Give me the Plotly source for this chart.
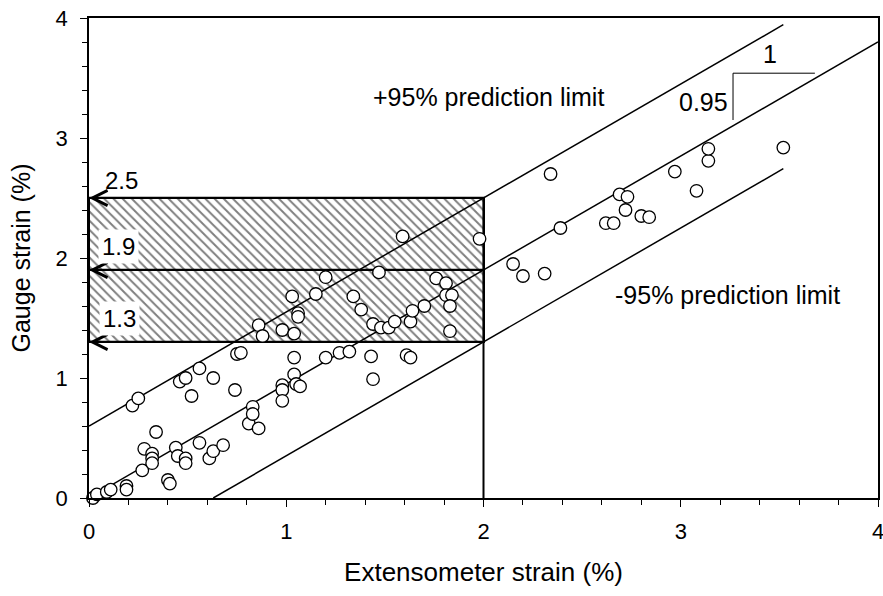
import plotly.graph_objects as go

# ---- data ----
ext_strain = [0.02, 0.04, 0.09, 0.11, 0.19, 0.19, 0.27, 0.28, 0.32, 0.32, 0.32, 0.34, 0.22, 0.25,
              0.40, 0.41, 0.44, 0.45, 0.49, 0.49, 0.46, 0.49, 0.52, 0.56, 0.56, 0.61, 0.63, 0.68,
              0.63, 0.74, 0.75, 0.77, 0.81, 0.83, 0.83, 0.86, 0.98, 0.98, 0.98, 1.04, 1.04, 1.05,
              1.07, 1.03, 0.86, 0.88, 0.98, 1.04, 1.06, 1.06, 1.59, 1.98, 1.47, 1.20, 1.15, 1.34,
              1.38, 1.44, 1.48, 1.52, 1.55, 1.63, 1.64, 1.70, 1.76, 1.81, 1.81, 1.84, 1.83, 1.83,
              1.20, 1.27, 1.32, 1.43, 1.44, 1.61, 1.63, 2.34, 2.39, 2.15, 2.20, 2.31, 2.62, 2.66,
              2.69, 2.73, 2.72, 2.80, 2.84, 2.97, 3.08, 3.14, 3.14, 3.52]
gauge_strain = [0.00, 0.03, 0.05, 0.07, 0.10, 0.07, 0.23, 0.41, 0.37, 0.33, 0.29, 0.55, 0.77, 0.83,
                0.15, 0.12, 0.42, 0.35, 0.33, 0.29, 0.97, 1.00, 0.85, 1.08, 0.46, 0.33, 0.39, 0.44,
                1.00, 0.90, 1.20, 1.21, 0.62, 0.76, 0.70, 0.58, 0.94, 0.90, 0.81, 1.17, 1.03, 0.95,
                0.93, 1.68, 1.44, 1.35, 1.40, 1.37, 1.54, 1.51, 2.18, 2.16, 1.88, 1.84, 1.70, 1.68,
                1.57, 1.45, 1.42, 1.42, 1.47, 1.47, 1.56, 1.60, 1.83, 1.79, 1.69, 1.69, 1.60, 1.39,
                1.17, 1.21, 1.22, 1.18, 0.99, 1.19, 1.17, 2.70, 2.25, 1.95, 1.85, 1.87, 2.29, 2.29,
                2.53, 2.51, 2.40, 2.35, 2.34, 2.72, 2.56, 2.81, 2.91, 2.92]

fit_x = [0.0, 4.0]
fit_y = [0.0, 3.8]
upper_x = [0.0, 3.52]
upper_y = [0.6, 3.944]
lower_x = [0.63, 3.52]
lower_y = [0.0, 2.744]

limit_ext = 2.0
gauge_levels = [1.3, 1.9, 2.5]
level_labels = ["1.3", "1.9", "2.5"]

slope_h_x = [3.265, 3.68]
slope_h_y = [3.54, 3.54]
slope_v_x = [3.265, 3.265]
slope_v_y = [3.54, 3.15]

x_ticks = [0, 1, 2, 3, 4]
y_ticks = [0, 1, 2, 3, 4]

FONT = "Liberation Sans, Arial, sans-serif"
ANN = 25

fig = go.Figure()

# hatched band (two stacked bars)
for lo, hi in [(gauge_levels[0], gauge_levels[1]), (gauge_levels[1], gauge_levels[2])]:
    fig.add_trace(go.Bar(
        x=[limit_ext / 2], y=[hi - lo], base=[lo], width=[limit_ext],
        marker=dict(color="white", line=dict(color="black", width=2.2),
                    pattern=dict(shape="\\", fgcolor="black", bgcolor="white", size=6.5, solidity=0.3)),
        showlegend=False, hoverinfo="skip"))

line_style = dict(color="black", width=1.5)
fig.add_trace(go.Scatter(x=fit_x, y=fit_y, mode="lines", line=line_style, showlegend=False))
fig.add_trace(go.Scatter(x=upper_x, y=upper_y, mode="lines", line=line_style, showlegend=False))
fig.add_trace(go.Scatter(x=lower_x, y=lower_y, mode="lines", line=line_style, showlegend=False))
fig.add_trace(go.Scatter(x=[limit_ext, limit_ext], y=[0, gauge_levels[2]], mode="lines",
                         line=dict(color="black", width=2), showlegend=False))
fig.add_trace(go.Scatter(x=slope_h_x, y=slope_h_y, mode="lines", line=dict(color="black", width=1), showlegend=False))
fig.add_trace(go.Scatter(x=slope_v_x, y=slope_v_y, mode="lines", line=dict(color="black", width=1), showlegend=False))

fig.add_trace(go.Scatter(
    x=ext_strain, y=gauge_strain, mode="markers",
    marker=dict(size=12.5, color="white", line=dict(color="black", width=1.3)),
    cliponaxis=False, showlegend=False))

annotations = []
for lv in gauge_levels:
    annotations.append(dict(x=0, y=lv, xref="x", yref="y", ax=20, ay=0, axref="pixel", ayref="pixel",
                            showarrow=True, arrowhead=5, arrowsize=2, arrowwidth=1.5, arrowcolor="black", text=""))

label_pos = {"2.5": (0.165, 2.65, None), "1.9": (0.15, 2.10, "white"), "1.3": (0.157, 1.50, "white")}
for lab in level_labels:
    xx, yy, bg = label_pos[lab]
    annotations.append(dict(x=xx, y=yy, xref="x", yref="y", text=lab, showarrow=False,
                            font=dict(family=FONT, size=24, color="black"),
                            bgcolor=bg if bg else "rgba(0,0,0,0)", borderpad=3))

annotations += [
    dict(x=2.025, y=3.34, xref="x", yref="y", text="+95% prediction limit", showarrow=False,
         font=dict(family=FONT, size=ANN, color="black")),
    dict(x=3.235, y=1.69, xref="x", yref="y", text="-95% prediction limit", showarrow=False,
         font=dict(family=FONT, size=ANN, color="black")),
    dict(x=3.45, y=3.70, xref="x", yref="y", text="1", showarrow=False,
         font=dict(family=FONT, size=ANN, color="black")),
    dict(x=3.25, y=3.30, xref="x", yref="y", text="0.95", showarrow=False, xanchor="right",
         font=dict(family=FONT, size=ANN, color="black")),
]

axis_common = dict(
    showline=True, linecolor="black", linewidth=1.5, mirror=True, automargin=False,
    showgrid=False, zeroline=False, ticks="outside", ticklen=7, tickwidth=1.2, tickcolor="black",
    range=[0, 4], tickvals=x_ticks, ticklabeloverflow="allow",
    tickfont=dict(family=FONT, size=22, color="black"),
    minor=dict(dtick=0.2, ticks="outside", ticklen=5, tickwidth=1, tickcolor="black", showgrid=False),
)

fig.update_layout(
    width=883, height=596,
    margin=dict(l=89, r=5, t=18, b=98),
    paper_bgcolor="white", plot_bgcolor="white",
    barmode="overlay", bargap=0,
    annotations=annotations,
    xaxis=dict(**axis_common, ticklabelstandoff=6,
               title=dict(text="Extensometer strain (%)", standoff=20,
                          font=dict(family=FONT, size=26, color="black"))),
    yaxis=dict(**{**axis_common, "tickvals": y_ticks}, ticklabelstandoff=8,
               title=dict(text="Gauge strain (%)", standoff=18,
                          font=dict(family=FONT, size=25, color="black"))),
)

fig.write_html("out.html", config={"displayModeBar": False},
               post_script="document.body.style.margin='0';document.body.style.overflow='hidden';")
